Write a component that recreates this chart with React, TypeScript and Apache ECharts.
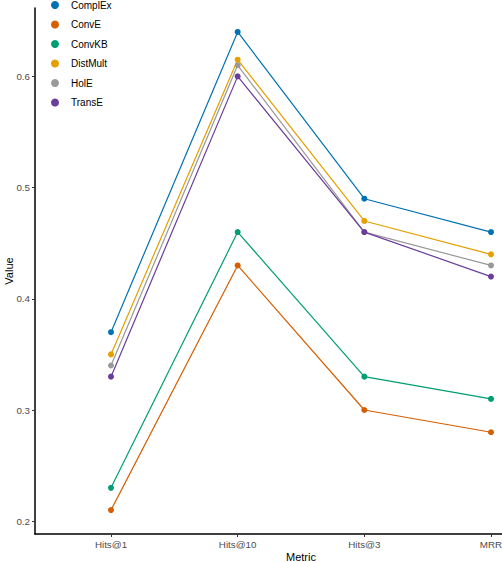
import React, { useEffect, useRef } from 'react';
import * as echarts from 'echarts';

const metrics = ['Hits@1', 'Hits@10', 'Hits@3', 'MRR'];
const modelNames = ['ComplEx', 'ConvE', 'ConvKB', 'DistMult', 'HolE', 'TransE'];
const complEx = [0.37, 0.64, 0.49, 0.46];
const convE = [0.21, 0.43, 0.3, 0.28];
const convKB = [0.23, 0.46, 0.33, 0.31];
const distMult = [0.35, 0.615, 0.47, 0.44];
const holE = [0.34, 0.61, 0.46, 0.43];
const transE = [0.33, 0.6, 0.46, 0.42];
const yTicks = [0.2, 0.3, 0.4, 0.5, 0.6];

const colors = ['#0072B2', '#D55E00', '#009E73', '#E69F00', '#999999', '#6A3D9A'];
const font = '"Liberation Sans", Arial, sans-serif';

const App: React.FC = () => {
    const chartRef = useRef<HTMLDivElement>(null);

    useEffect(() => {
        if (!chartRef.current) return;
        const chart = echarts.init(chartRef.current, null, { renderer: 'svg' });

        const values = [complEx, convE, convKB, distMult, holE, transE];
        const xIdx = metrics.map((_, i) => i);

        chart.setOption({
            animation: false,
            backgroundColor: '#fff',
            color: colors,
            textStyle: { fontFamily: font },
            grid: { left: 35, top: 8, width: 532, height: 526, containLabel: false, outerBoundsMode: 'none' },
            legend: {
                orient: 'vertical',
                left: 46,
                top: -6,
                icon: 'circle',
                itemWidth: 22,
                itemHeight: 8,
                itemGap: 7.5,
                data: modelNames,
                textStyle: { color: '#000', fontSize: 10, lineHeight: 12, fontFamily: font },
            },
            xAxis: {
                type: 'value',
                min: -0.6,
                max: 3.6,
                name: 'Metric',
                nameLocation: 'middle',
                nameGap: 17,
                nameMoveOverlap: false,
                nameTextStyle: { color: '#000', fontSize: 11, fontFamily: font },
                splitLine: { show: false },
                axisLine: { onZero: false, lineStyle: { color: '#000', width: 1.5 } },
                axisTick: { show: true, length: 3, customValues: xIdx, lineStyle: { color: '#333' } },
                axisLabel: {
                    customValues: xIdx,
                    formatter: (v: number) => metrics[Math.round(v)] ?? '',
                    color: '#4d4d4d',
                    fontSize: 9.8,
                    margin: 5,
                    fontFamily: font,
                },
            },
            yAxis: {
                type: 'value',
                min: 0.1885,
                max: 0.6615,
                name: 'Value',
                nameLocation: 'middle',
                nameGap: 21,
                nameMoveOverlap: false,
                nameTextStyle: { color: '#000', fontSize: 11, fontFamily: font },
                splitLine: { show: false },
                axisLine: { show: true, onZero: false, lineStyle: { color: '#000', width: 1.5 } },
                axisTick: { show: true, length: 3, customValues: yTicks, lineStyle: { color: '#333' } },
                axisLabel: {
                    customValues: yTicks,
                    formatter: (v: number) => v.toFixed(1),
                    color: '#4d4d4d',
                    fontSize: 9.8,
                    margin: 5,
                    fontFamily: font,
                },
            },
            series: modelNames.map((name, s) => ({
                name,
                type: 'line',
                data: values[s].map((v, i) => [i, v]),
                symbol: 'circle',
                symbolSize: 6,
                lineStyle: { width: 1.2 },
            })),
        });

        return () => {
            chart.dispose();
        };
    }, []);

    return (
        <div
            ref={chartRef}
            style={{ position: 'fixed', left: 0, top: 0, width: '502px', height: '562px' }}
        />
    );
};

export default App;
